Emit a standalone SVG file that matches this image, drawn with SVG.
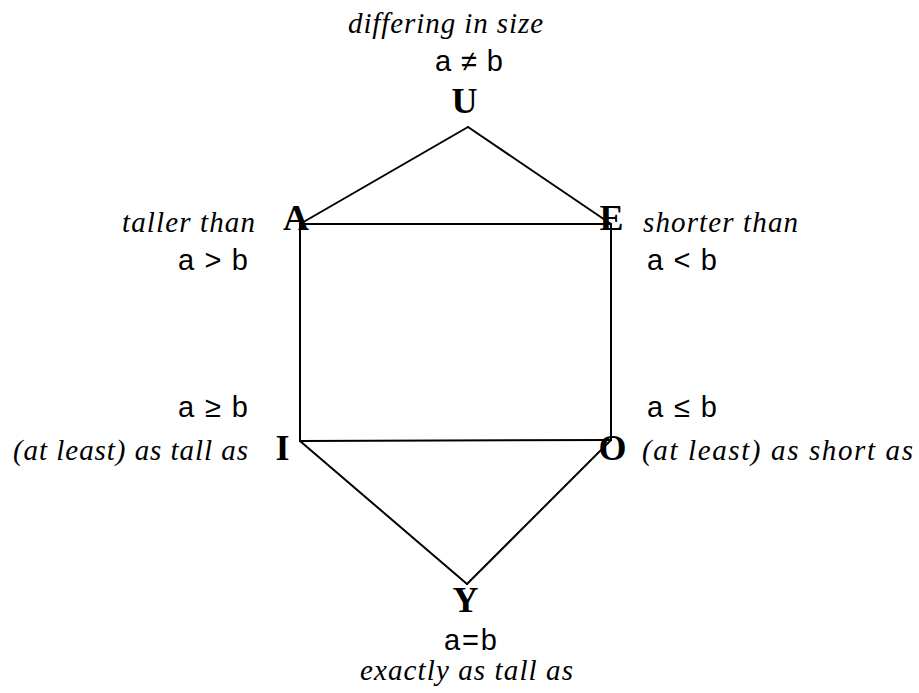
<svg xmlns="http://www.w3.org/2000/svg" width="919" height="693" viewBox="0 0 919 693">
<style>
.ln{stroke:#000;stroke-width:2;fill:none;stroke-linecap:round}
.it{font-family:"Liberation Serif",serif;font-style:italic;font-size:29px;fill:#000}
.mt{font-family:"Liberation Sans",Arial,sans-serif;font-size:29px;fill:#000}
.vx{font-family:"Liberation Serif",serif;font-weight:bold;font-size:36px;fill:#000}
</style>
<rect width="919" height="693" fill="#fff"/>
<g id="connectors">
<line class="ln" x1="468" y1="127" x2="300" y2="224"/>
<line class="ln" x1="468" y1="127" x2="611" y2="224"/>
<line class="ln" x1="300" y1="224" x2="611" y2="224"/>
<line class="ln" x1="300" y1="224" x2="300" y2="441"/>
<line class="ln" x1="611" y1="224" x2="611" y2="440"/>
<line class="ln" x1="300" y1="441" x2="611" y2="440"/>
<line class="ln" x1="300" y1="441" x2="467" y2="584"/>
<line class="ln" x1="611" y1="440" x2="467" y2="584"/>
</g>
<g id="node-U">
<text class="it" x="348" y="33" textLength="195">differing in size</text>
<text class="mt" x="435" y="71" textLength="68">a ≠ b</text>
<text class="vx" x="464.5" y="113" text-anchor="middle">U</text>
</g>
<g id="node-A">
<text class="it" x="122" y="232" textLength="133">taller than</text>
<text class="mt" x="178" y="270" textLength="70">a &gt; b</text>
<text class="vx" x="296" y="230" text-anchor="middle">A</text>
</g>
<g id="node-E">
<text class="vx" x="611.5" y="230" text-anchor="middle">E</text>
<text class="it" x="643" y="232" textLength="155">shorter than</text>
<text class="mt" x="647" y="270" textLength="70">a &lt; b</text>
</g>
<g id="node-I">
<text class="mt" x="178" y="417" textLength="70">a ≥ b</text>
<text class="it" x="13" y="460" textLength="235">(at least) as tall as</text>
<text class="vx" x="282.5" y="460" text-anchor="middle">I</text>
</g>
<g id="node-O">
<text class="mt" x="647" y="417" textLength="70">a ≤ b</text>
<text class="vx" x="612.5" y="460" text-anchor="middle">O</text>
<text class="it" x="642" y="460" textLength="271">(at least) as short as</text>
</g>
<g id="node-Y">
<text class="vx" x="465.5" y="612" text-anchor="middle">Y</text>
<text class="mt" x="444" y="650" textLength="53">a=b</text>
<text class="it" x="360" y="680" textLength="213">exactly as tall as</text>
</g>
</svg>
